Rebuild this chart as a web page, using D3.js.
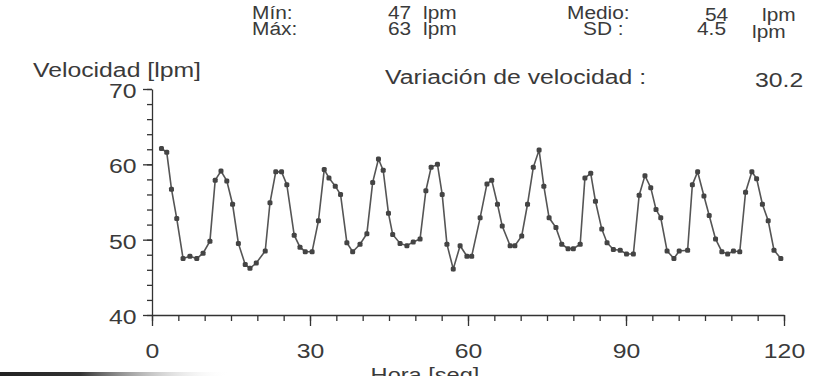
<!DOCTYPE html>
<html>
<head>
<meta charset="utf-8">
<script src="https://cdn.jsdelivr.net/npm/d3@7"></script>
<style>
  body { margin: 0; background: #fff; }
  svg { display: block; }
  text { font-family: "Liberation Sans", Arial, sans-serif; fill: #3a3a3a; }
</style>
</head>
<body>
<svg id="chart" width="816" height="376"></svg>
<script>
// seconds
const times = [1.8, 2.8, 3.7, 4.7, 5.9, 7.2, 8.5, 9.7, 11.0, 12.0, 13.1, 14.2, 15.3, 16.4, 17.7, 18.6,
  19.8, 21.5, 22.4, 23.5, 24.6, 25.6, 27.0, 28.1, 29.1, 30.4, 31.6, 32.7, 33.6, 34.8, 35.8, 37.0,
  38.1, 39.5, 40.8, 41.9, 43.0, 43.9, 44.9, 45.7, 47.1, 48.4, 49.6, 50.9, 52.0, 53.0, 54.2, 55.1,
  56.0, 57.2, 58.5, 59.8, 60.7, 62.3, 63.6, 64.5, 65.6, 66.5, 68.0, 68.9, 70.2, 71.3, 72.4, 73.5,
  74.4, 75.4, 76.7, 77.8, 79.0, 80.0, 81.3, 82.2, 83.3, 84.2, 85.4, 86.4, 87.6, 88.9, 90.1, 91.4,
  92.5, 93.6, 94.7, 95.7, 96.6, 97.8, 99.1, 100.1, 101.7, 102.6, 103.6, 104.8, 105.8, 107.0, 108.2,
  109.3, 110.4, 111.6, 112.7, 113.9, 114.8, 115.9, 117.0, 118.1, 119.4];
// lpm
const speed = [62.1, 61.6, 56.7, 52.8, 47.5, 47.8, 47.5, 48.2, 49.8, 57.9, 59.1, 57.8, 54.7, 49.5, 46.7, 46.2,
  46.9, 48.5, 54.9, 59.0, 59.0, 57.3, 50.6, 49.0, 48.4, 48.4, 52.5, 59.3, 58.2, 57.1, 56.0, 49.6,
  48.4, 49.4, 50.8, 57.6, 60.7, 59.2, 53.5, 50.7, 49.5, 49.2, 49.7, 50.1, 56.5, 59.6, 60.0, 56.0,
  49.4, 46.1, 49.2, 47.8, 47.8, 52.9, 57.4, 57.9, 54.7, 51.8, 49.2, 49.2, 50.5, 54.7, 59.6, 61.9,
  57.1, 52.9, 51.6, 49.4, 48.8, 48.8, 49.4, 58.2, 58.8, 55.1, 51.4, 49.6, 48.7, 48.6, 48.1, 48.1,
  55.9, 58.5, 56.9, 54.0, 52.9, 48.5, 47.5, 48.5, 48.6, 57.3, 59.0, 55.8, 53.2, 50.1, 48.4,
  48.1, 48.5, 48.4, 56.3, 59.0, 58.1, 54.7, 52.5, 48.6, 47.5];

const xMajor = [0, 30, 60, 90, 120];
const yMajor = [40, 50, 60, 70];

const statLabels = ['Mín:', 'Máx:', 'Medio:', 'SD :'];
const statValues = ['47', '63', '54', '4.5'];
const variationLabel = 'Variación de velocidad :';
const variationValue = '30.2';

const svg = d3.select('#chart');
const sx = 1.18; // the scanned text is wider than plain Arial

const x = d3.scaleLinear().domain([0, 120]).range([152, 784]);
const y = d3.scaleLinear().domain([40, 70]).range([315, 89]);

function label(px, py, txt, size, stretch, anchor) {
  svg.append('text')
    .attr('transform', `translate(${px},${py}) scale(${stretch},1)`)
    .attr('text-anchor', anchor || 'start')
    .style('font-size', size + 'px')
    .text(txt);
}

// header, slightly smaller type than the axis
const hs = 18, hx = 1.16;
label(252, 19, statLabels[0], hs, hx);
label(388, 19, statValues[0], hs, hx);
label(423, 19, 'lpm', hs, hx);
label(567, 19, statLabels[2], hs, hx);
label(705, 21, statValues[2], hs, hx);
label(762, 21, 'lpm', hs, hx);

label(252, 35, statLabels[1], hs, hx);
label(388, 35, statValues[1], hs, hx);
label(423, 35, 'lpm', hs, hx);
label(583, 35, statLabels[3], hs, hx);
label(697, 35, statValues[3], hs, hx);
label(752, 38, 'lpm', hs, hx);

label(385, 84, variationLabel, 21, sx);
label(755, 87, variationValue, 21, sx);
label(33, 77, 'Velocidad [lpm]', 21, sx);

// y axis
svg.append('g')
  .attr('transform', `translate(${x(0)},0)`)
  .call(d3.axisLeft(y).tickValues(d3.range(40, 71, 2)).tickSize(5).tickFormat(''))
  .call(g => g.select('.domain').remove());

const yAxis = svg.append('g')
  .attr('transform', `translate(${x(0)},0)`)
  .call(d3.axisLeft(y).tickValues(yMajor).tickSize(9).tickPadding(3).tickSizeOuter(0));

// x axis
svg.append('g')
  .attr('transform', `translate(0,${y(40)})`)
  .call(d3.axisBottom(x).tickValues(d3.range(0, 121, 5)).tickSize(6).tickFormat(''))
  .call(g => g.select('.domain').remove());

const xAxis = svg.append('g')
  .attr('transform', `translate(0,${y(40)})`)
  .call(d3.axisBottom(x).tickValues(xMajor).tickSize(11).tickPadding(17).tickSizeOuter(0));

svg.selectAll('.tick line, .domain')
  .attr('stroke', '#333')
  .attr('stroke-width', 1.3);

[xAxis, yAxis].forEach(a => a.selectAll('text')
  .style('font-size', '21px')
  .style('font-family', '"Liberation Sans", Arial, sans-serif')
  .attr('fill', '#3a3a3a'));
yAxis.selectAll('text').attr('transform', `scale(${sx},1)`).attr('x', -12 / sx - 3).attr('dy', '0.4em');
xAxis.selectAll('text').attr('transform', `scale(${sx},1)`);

label(425, 382, 'Hora [seg]', 20, sx, 'middle');

// series
const pts = times.map((t, i) => ({ t, v: speed[i] }));

svg.append('path')
  .datum(pts)
  .attr('fill', 'none')
  .attr('stroke', '#555')
  .attr('stroke-width', 1.6)
  .attr('d', d3.line().x(d => x(d.t)).y(d => y(d.v)));

svg.selectAll('.pt')
  .data(pts)
  .join('rect')
  .attr('class', 'pt')
  .attr('x', d => x(d.t) - 2.5)
  .attr('y', d => y(d.v) - 2.5)
  .attr('width', 5)
  .attr('height', 5)
  .attr('rx', 1.5)
  .attr('fill', '#444');

// dark scan edge at the bottom left
const grad = svg.append('defs').append('linearGradient').attr('id', 'edge');
grad.append('stop').attr('offset', '0%').attr('stop-color', '#222');
grad.append('stop').attr('offset', '35%').attr('stop-color', '#333');
grad.append('stop').attr('offset', '100%').attr('stop-color', '#fff').attr('stop-opacity', 0);
svg.append('rect')
  .attr('x', 0).attr('y', 372).attr('width', 230).attr('height', 4)
  .attr('fill', 'url(#edge)');
</script>
</body>
</html>
